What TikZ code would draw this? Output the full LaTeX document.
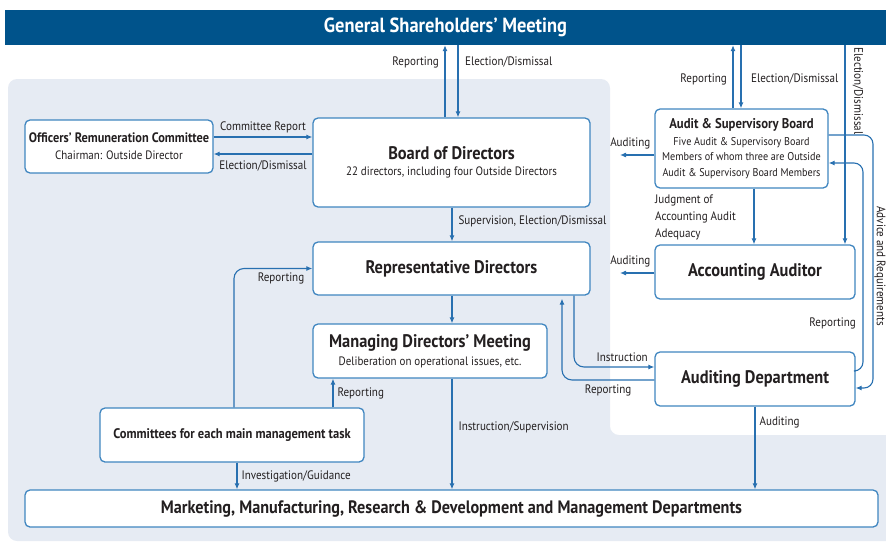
\documentclass[tikz,border=0pt]{standalone}
\usepackage{fontspec}
\setmainfont{PT Sans}[FakeStretch=0.9]
\usetikzlibrary{arrows.meta,calc}
\definecolor{linec}{RGB}{40,112,176}
\definecolor{boxc}{RGB}{64,134,192}
\definecolor{barc}{RGB}{0,83,139}
\definecolor{bgc}{RGB}{230,235,243}
\definecolor{txtc}{RGB}{35,31,32}
\tikzset{
  box/.style={draw=boxc, line width=1.3pt, fill=white, rounded corners=5pt, align=center, text=txtc, inner sep=0pt},
  arr/.style={draw=linec, line width=1.1pt, -{Latex[length=6pt,width=5pt]}},
  lbl/.style={font=\fontsize{12.3}{14}\selectfont, text=txtc, inner sep=2pt},
  ttl/.style={font=\fontsize{18.2}{20}\selectfont\bfseries},
}
\newcommand{\subtext}[1]{{\fontsize{12.2}{14}\selectfont\mdseries #1}}
\begin{document}
\begin{tikzpicture}[x=1pt,y=-1pt]
\useasboundingbox (0,0) rectangle (886,543);
% background
\fill[bgc, rounded corners=9pt] (8,79) -- (610,79) -- (610,435) -- (900,435) -- (900,541) -- (8,541) -- cycle;
% top bar
\node[fill=barc, minimum width=881pt, minimum height=35pt, inner sep=0pt, text=white, font=\fontsize{20.5}{22}\selectfont\bfseries] (gsm) at (445.5,27.5) {General Shareholders’ Meeting};
% boxes
\node[box, minimum width=188pt, minimum height=53pt] (orc) at (119,146.5) {{\fontsize{13.7}{16}\selectfont\bfseries Officers’ Remuneration Committee}\\[5pt]\subtext{Chairman: Outside Director}};
\node[box, minimum width=277pt, minimum height=89pt] (bod) at (451.5,162.5) {{\fontsize{18.2}{20}\selectfont\bfseries Board of Directors}\\[4pt]\subtext{22 directors, including four Outside Directors}};
\node[box, minimum width=277pt, minimum height=53pt, ttl] (rep) at (451.5,268.5) {Representative Directors};
\node[box, minimum width=234pt, minimum height=54pt] (mdm) at (430,351) {{\fontsize{18.2}{20}\selectfont\bfseries Managing Directors’ Meeting}\\[5pt]\subtext{Deliberation on operational issues, etc.}};
\node[box, minimum width=264pt, minimum height=54pt, font=\fontsize{13.9}{16}\selectfont\bfseries] (cmt) at (232,435) {Committees for each main management task};
\node[box, minimum width=853pt, minimum height=37pt, font=\fontsize{18}{20}\selectfont\bfseries] (mkt) at (451.5,508.5) {Marketing, Manufacturing, Research \& Development and Management Departments};
\node[box, minimum width=173pt, minimum height=79pt, font=\fontsize{11.3}{15.5}\selectfont] (asb) at (741.5,148.5) {{\fontsize{14.1}{17}\selectfont\bfseries Audit \& Supervisory Board}\\[1pt]Five Audit \& Supervisory Board\\Members of whom three are Outside\\Audit \& Supervisory Board Members};
\node[box, minimum width=200pt, minimum height=54pt, ttl] (acc) at (755,272) {Accounting Auditor};
\node[box, minimum width=200pt, minimum height=54pt, ttl] (aud) at (755,379) {Auditing Department};
% free ends
\coordinate (fa1) at (620,155);
\coordinate (fa2) at (620,273);
% GSM <-> Board
\draw[arr] (445,0 |- bod.north) -- (445,0 |- gsm.south);
\node[lbl, anchor=east] (l1) at (441,62) {Reporting};
\draw[arr] (458,0 |- gsm.south) -- (458,0 |- bod.north);
\node[lbl, anchor=west] (l2) at (463,62) {Election/Dismissal};
% GSM <-> ASB
\draw[arr] (733,0 |- asb.north) -- (733,0 |- gsm.south);
\node[lbl, anchor=east] (l3) at (729,79) {Reporting};
\draw[arr] (741,0 |- gsm.south) -- (741,0 |- asb.north);
\node[lbl, anchor=west] (l4) at (749,79) {Election/Dismissal};
% GSM -> Accounting Auditor
\draw[arr] (845,0 |- gsm.south) -- (845,0 |- acc.north);
\node[lbl, rotate=-90] (l5) at (858,91) {Election/Dismissal};
% Officers committee <-> Board
\draw[arr] (orc.east |- 0,137) -- node[lbl, above, yshift=1pt] (l6) {Committee Report} (bod.west |- 0,137);
\draw[arr] (bod.west |- 0,154) -- node[lbl, below, yshift=-4pt] (l7) {Election/Dismissal} (orc.east |- 0,154);
% Board -> Rep
\draw[arr] (452,0 |- bod.south) -- node[lbl, right, xshift=4pt, pos=0.4] (l8) {Supervision, Election/Dismissal} (452,0 |- rep.north);
% Rep -> Managing
\draw[arr] (452,0 |- rep.south) -- (452,0 |- mdm.north);
% Committees -> Rep
\draw[arr, rounded corners=10pt] (234,0 |- cmt.north) |- node[lbl, pos=0.8, below, yshift=-2pt] (l9) {Reporting} (rep.west);
% Committees -> Managing
\draw[arr] (333,0 |- cmt.north) -- node[lbl, right, xshift=2pt] (l10) {Reporting} (333,0 |- mdm.south);
% Committees -> Marketing
\draw[arr] (237,0 |- cmt.south) -- node[lbl, right, xshift=2pt] (l11) {Investigation/Guidance} (237,0 |- mkt.north);
% Managing -> Marketing
\draw[arr] (452,0 |- mdm.south) -- node[lbl, right, pos=0.44, xshift=4pt] (l12) {Instruction/Supervision} (452,0 |- mkt.north);
% Auditing Dept -> Marketing
\draw[arr] (755,0 |- aud.south) -- node[lbl, right, pos=0.19, xshift=2pt] (l13) {Auditing} (755,0 |- mkt.north);
% Rep <-> Auditing Dept
\draw[arr, rounded corners=10pt] (574,0 |- rep.south) |- node[lbl, pos=0.8, above, yshift=3pt] (l14) {Instruction} (aud.west |- 0,367);
\draw[arr, rounded corners=10pt] (aud.west |- 0,380) -| node[lbl, pos=0.25, below, yshift=-2pt] (l15) {Reporting} ([yshift=-3pt]562,0 |- rep.south);
% Auditing arrows left
\draw[arr] (asb.west |- fa1) -- node[lbl, above, pos=0.7, yshift=3pt] (l16) {Auditing} (fa1);
\draw[arr] (acc.west |- fa2) -- node[lbl, above, pos=0.7, yshift=3pt] (l17) {Auditing} (fa2);
% ASB -> ACC
\draw[arr] (754,0 |- asb.south) -- (754,0 |- acc.north);
\node[lbl, anchor=north west, align=left, inner sep=0pt, font=\fontsize{12.3}{17}\selectfont] (l18) at (655,195) {Judgment of\\Accounting Audit\\Adequacy};
% Advice and Requirements (ASB -> Auditing Dept)
\draw[arr, rounded corners=9pt] (asb.east |- 0,135) -| (873,388) -- (aud.east |- 0,388);
\node[lbl, rotate=-90] (l19) at (880,266) {Advice and Requirements};
% Reporting (Auditing Dept -> ASB)
\draw[arr, rounded corners=9pt] (aud.east |- 0,371) -| (863,163) -- (asb.east |- 0,163);
\node[lbl, anchor=east] (l20) at (858,323) {Reporting};
\end{tikzpicture}
\end{document}
